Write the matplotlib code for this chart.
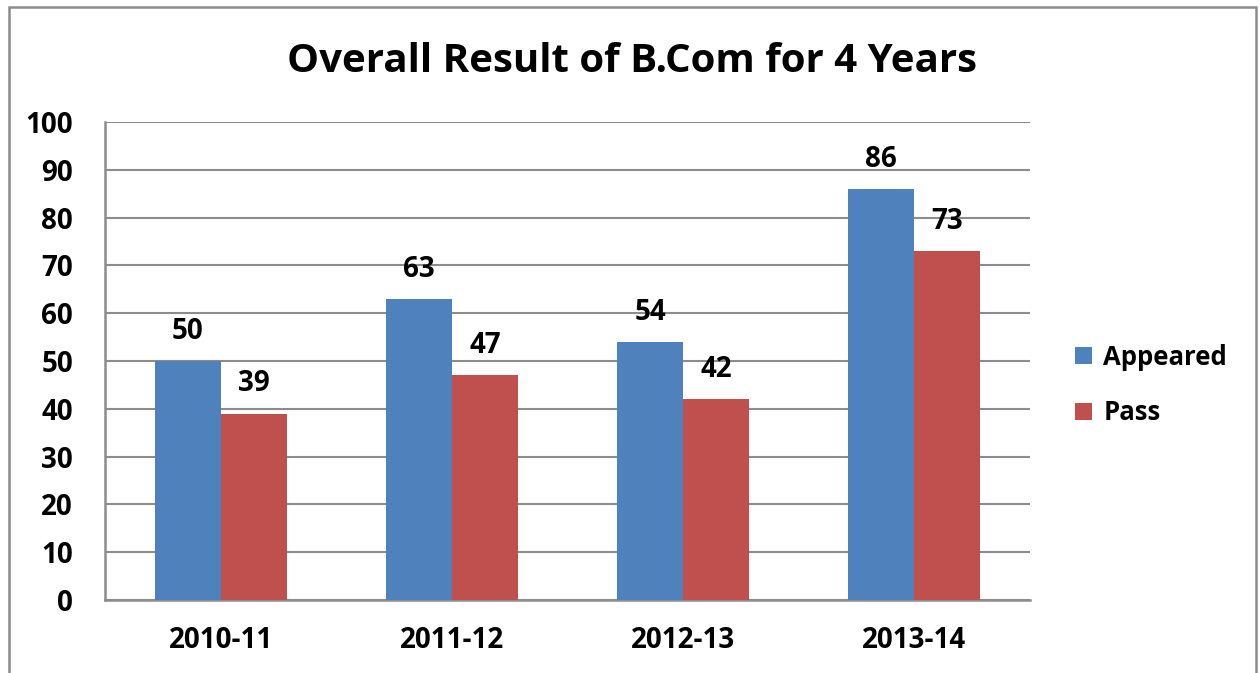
import matplotlib.pyplot as plt
import numpy as np
from matplotlib.patches import Rectangle

# data
years = ['2010-11', '2011-12', '2012-13', '2013-14']
appeared = [50, 63, 54, 86]
passed = [39, 47, 42, 73]

plt.rcParams['font.family'] = ['Open Sans', 'DejaVu Sans']
plt.rcParams['font.weight'] = 'bold'

fig = plt.figure(figsize=(12.6, 6.73), dpi=100)
W, H = 1260, 673
ax = fig.add_axes([105 / W, 1 - 600 / H, (1030 - 105) / W, (600 - 122) / H])

# outer chart border
fig.patches.append(Rectangle((9 / W, -0.05), (1256 - 9) / W, 1 - 7 / H + 0.05,
                             transform=fig.transFigure, fill=False,
                             edgecolor='#8c8c8c', linewidth=1.8))

x = np.arange(len(years))
w = 1 / 3.5
b1 = ax.bar(x - w / 2, appeared, w, color='#4F81BD', label='Appeared', zorder=3)
b2 = ax.bar(x + w / 2, passed, w, color='#C0504D', label='Pass', zorder=3)

for bars in (b1, b2):
    for r in bars:
        ax.annotate(f'{r.get_height():.0f}', (r.get_x() + r.get_width() / 2, r.get_height()),
                    xytext=(0, 11), textcoords='offset points', ha='center', va='bottom',
                    fontsize=20, fontweight='bold')

ax.set_xlim(-0.5, len(years) - 0.5)
ax.set_ylim(0, 100)
ax.set_yticks(range(0, 101, 10))
ax.set_xticks(x)
ax.set_xticklabels(years)
ax.yaxis.grid(True, color='#8c8c8c', linewidth=1.5, zorder=0)
ax.tick_params(axis='both', length=0, labelsize=20)
ax.tick_params(axis='y', pad=23)
ax.tick_params(axis='x', pad=19)
for s in ['top', 'right']:
    ax.spines[s].set_visible(False)
for s in ['left', 'bottom']:
    ax.spines[s].set_color('#8c8c8c')
    ax.spines[s].set_linewidth(1.8)

fig.text(632 / W, 1 - 61 / H, 'Overall Result of B.Com for 4 Years', ha='center', va='center',
         fontsize=29, fontweight='bold')

leg = fig.legend(handles=[b1, b2], loc='center left', bbox_to_anchor=(1052 / W, 1 - 385 / H),
                 frameon=False, fontsize=18.5, handlelength=0.65, handleheight=0.65,
                 handletextpad=0.45, labelspacing=1.1)

fig.savefig('out.png', dpi=100)
